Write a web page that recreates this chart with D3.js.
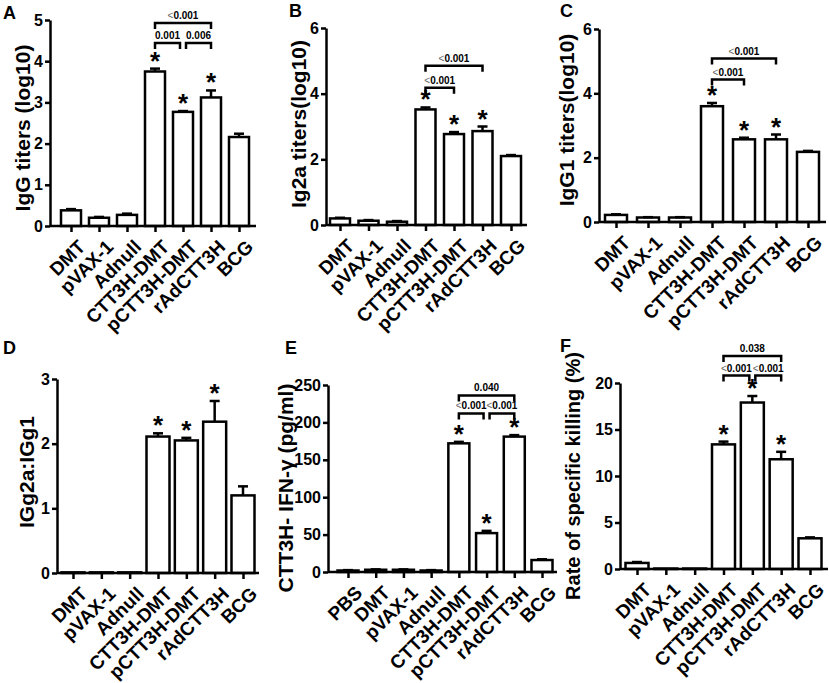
<!DOCTYPE html>
<html>
<head>
<meta charset="utf-8">
<script src="https://cdn.jsdelivr.net/npm/d3@7"></script>
<style>
  body { margin: 0; background: #fff; }
  text { font-family: Arial, "Liberation Sans", sans-serif; font-weight: bold; fill: #000; }
</style>
</head>
<body>
<div id="chart"></div>
<script>
// groups (x categories)
var groups7 = ["DMT", "pVAX-1", "Adnull", "CTT3H-DMT", "pCTT3H-DMT", "rAdCTT3H", "BCG"];
var groups8 = ["PBS", "DMT", "pVAX-1", "Adnull", "CTT3H-DMT", "pCTT3H-DMT", "rAdCTT3H", "BCG"];

// A - IgG titers (log10)
var iggMean = [0.38, 0.20, 0.27, 3.75, 2.77, 3.12, 2.16];
var iggErr  = [0.03, 0.02, 0.03, 0.07, 0.02, 0.17, 0.08];
var iggStars = ["CTT3H-DMT", "pCTT3H-DMT", "rAdCTT3H"];
var iggBrackets = [["CTT3H-DMT", "rAdCTT3H", 4.93, "<0.001"],
                   ["CTT3H-DMT", "pCTT3H-DMT", 4.44, "0.001"],
                   ["pCTT3H-DMT", "rAdCTT3H", 4.44, "0.006"]];

// B - Ig2a titers(log10)
var ig2aMean = [0.20, 0.13, 0.10, 3.52, 2.77, 2.86, 2.10];
var ig2aErr  = [0.02, 0.02, 0.02, 0.06, 0.06, 0.14, 0.03];
var ig2aStars = ["CTT3H-DMT", "pCTT3H-DMT", "rAdCTT3H"];
var ig2aBrackets = [["CTT3H-DMT", "rAdCTT3H", 4.85, "<0.001"],
                    ["CTT3H-DMT", "pCTT3H-DMT", 4.18, "<0.001"]];

// C - IgG1 titers(log10)
var igg1Mean = [0.22, 0.14, 0.14, 3.60, 2.57, 2.57, 2.18];
var igg1Err  = [0.02, 0.01, 0.01, 0.10, 0.05, 0.15, 0.03];
var igg1Stars = ["CTT3H-DMT", "pCTT3H-DMT", "rAdCTT3H"];
var igg1Brackets = [["CTT3H-DMT", "rAdCTT3H", 5.08, "<0.001"],
                    ["CTT3H-DMT", "pCTT3H-DMT", 4.43, "<0.001"]];

// D - IGg2a:IGg1
var ratioMean = [0.01, 0.01, 0.01, 2.11, 2.05, 2.34, 1.20];
var ratioErr  = [0, 0, 0, 0.05, 0.04, 0.32, 0.14];
var ratioStars = ["CTT3H-DMT", "pCTT3H-DMT", "rAdCTT3H"];

// E - CTT3H- IFN-γ (pg/ml)
var ifnMean = [2, 3, 3, 2, 172, 52, 181, 16];
var ifnErr  = [0.5, 0.5, 0.5, 0.5, 2, 3, 2, 1];
var ifnStars = ["CTT3H-DMT", "pCTT3H-DMT", "rAdCTT3H"];
var ifnBrackets = [["CTT3H-DMT", "rAdCTT3H", 236, "0.040"],
                   ["CTT3H-DMT", "pCTT3H-DMT", 212, "<0.001"],
                   ["pCTT3H-DMT", "rAdCTT3H", 212, "<0.001"]];

// F - Rate of specific killing (%)
var killMean = [0.65, 0.05, 0.05, 13.4, 17.9, 11.8, 3.3];
var killErr  = [0.1, 0, 0, 0.3, 0.7, 0.8, 0.1];
var killStars = ["CTT3H-DMT", "pCTT3H-DMT", "rAdCTT3H"];
var killBrackets = [["CTT3H-DMT", "rAdCTT3H", 22.9, "0.038"],
                    ["CTT3H-DMT", "pCTT3H-DMT", 20.8, "<0.001"],
                    ["pCTT3H-DMT", "rAdCTT3H", 20.8, "<0.001"]];

var svg = d3.select("#chart").append("svg")
    .attr("width", 829)
    .attr("height", 683);

// ax = y axis x, c0/c1 = first/last bar centre, xEnd = end of x axis
// yTop = pixel of top tick, y0 = pixel of zero
var panels = [
  {label: "A", lx: 3, ly: 19, title: "IgG titers (log10)", tx: 30, ty: 128, ts: 21,
   cats: groups7, vals: iggMean, errs: iggErr, stars: iggStars, brackets: iggBrackets,
   ticks: [0, 1, 2, 3, 4, 5], ax: 50, c0: 71, c1: 239, xEnd: 256, yTop: 20, y0: 226, bw: 20},
  {label: "B", lx: 289, ly: 17, title: "Ig2a titers(log10)", tx: 306, ty: 124, ts: 21,
   cats: groups7, vals: ig2aMean, errs: ig2aErr, stars: ig2aStars, brackets: ig2aBrackets,
   ticks: [0, 2, 4, 6], ax: 326, c0: 340, c1: 511, xEnd: 527, yTop: 28, y0: 225, bw: 20},
  {label: "C", lx: 560, ly: 17, title: "IgG1 titers(log10)", tx: 574, ty: 120, ts: 21,
   cats: groups7, vals: igg1Mean, errs: igg1Err, stars: igg1Stars, brackets: igg1Brackets,
   ticks: [0, 2, 4, 6], ax: 599, c0: 616, c1: 808, xEnd: 826, yTop: 29, y0: 222, bw: 22},
  {label: "D", lx: 3, ly: 354, title: "IGg2a:IGg1", tx: 34, ty: 472, ts: 21,
   cats: groups7, vals: ratioMean, errs: ratioErr, stars: ratioStars, brackets: [],
   ticks: [0, 1, 2, 3], ax: 57, c0: 73, c1: 243, xEnd: 259, yTop: 379, y0: 573, bw: 23},
  {label: "E", lx: 285, ly: 354, title: "CTT3H- IFN-\u03b3 (pg/ml)", tx: 293, ty: 488, ts: 21,
   cats: groups8, vals: ifnMean, errs: ifnErr, stars: ifnStars, brackets: ifnBrackets,
   ticks: [0, 50, 100, 150, 200, 250], ax: 328, c0: 348, c1: 542, xEnd: 557, yTop: 385, y0: 572, bw: 21},
  {label: "F", lx: 560, ly: 352, title: "Rate of specific killing (%)", tx: 580, ty: 476, ts: 20,
   cats: groups7, vals: killMean, errs: killErr, stars: killStars, brackets: killBrackets,
   ticks: [0, 5, 10, 15, 20], ax: 620, c0: 637, c1: 810, xEnd: 828, yTop: 383, y0: 569, bw: 23}
];

panels.forEach(drawPanel);

function drawPanel(p) {
  var g = svg.append("g");
  var yMax = d3.max(p.ticks);
  var y = d3.scaleLinear().domain([0, yMax]).range([p.y0, p.yTop]);
  var x = d3.scalePoint().domain(p.cats).range([p.c0, p.c1]);
  var rows = p.cats.map(function(c, i) { return {cat: c, v: p.vals[i], e: p.errs[i]}; });

  // bars
  g.selectAll("rect.bar").data(rows).enter().append("rect")
    .attr("class", "bar")
    .attr("x", function(d) { return x(d.cat) - p.bw / 2; })
    .attr("y", function(d) { return y(d.v); })
    .attr("width", p.bw)
    .attr("height", function(d) { return p.y0 - y(d.v); })
    .attr("fill", "#fff")
    .attr("stroke", "#000")
    .attr("stroke-width", 2.5);

  // error bars (upper only)
  var eb = g.selectAll("g.err").data(rows.filter(function(d) { return d.e > 0; })).enter().append("g");
  eb.append("line")
    .attr("x1", function(d) { return x(d.cat); })
    .attr("x2", function(d) { return x(d.cat); })
    .attr("y1", function(d) { return y(d.v); })
    .attr("y2", function(d) { return y(d.v + d.e); })
    .attr("stroke", "#000").attr("stroke-width", 2.5);
  eb.append("line")
    .attr("x1", function(d) { return x(d.cat) - 5; })
    .attr("x2", function(d) { return x(d.cat) + 5; })
    .attr("y1", function(d) { return y(d.v + d.e); })
    .attr("y2", function(d) { return y(d.v + d.e); })
    .attr("stroke", "#000").attr("stroke-width", 2.5);

  // stars
  g.selectAll("text.star").data(rows.filter(function(d) { return p.stars.indexOf(d.cat) >= 0; }))
    .enter().append("text")
    .attr("x", function(d) { return x(d.cat); })
    .attr("y", function(d) { return y(d.v + d.e) + 1; })
    .attr("text-anchor", "middle")
    .style("font-size", "26px")
    .text("*");

  // y axis
  var yAxis = g.append("g")
    .attr("transform", "translate(" + p.ax + ",0)")
    .call(d3.axisLeft(y).tickValues(p.ticks).tickFormat(d3.format("d"))
      .tickSize(5).tickSizeOuter(0).tickPadding(2));
  yAxis.select(".domain").attr("stroke-width", 2.5);
  yAxis.selectAll(".tick line").attr("stroke-width", 2.5);
  yAxis.selectAll(".tick text").style("font-size", "16px").style("font-family", "Arial, 'Liberation Sans', sans-serif").style("font-weight", "bold");

  // x axis
  var xAxis = g.append("g")
    .attr("transform", "translate(0," + p.y0 + ")")
    .call(d3.axisBottom(x).tickSize(6).tickSizeOuter(0));
  xAxis.select(".domain").remove();
  xAxis.append("line")
    .attr("x1", p.ax).attr("x2", p.xEnd)
    .attr("stroke", "#000").attr("stroke-width", 2.5);
  xAxis.selectAll(".tick line").attr("stroke-width", 2.5);
  xAxis.selectAll(".tick text")
    .attr("y", 0).attr("dy", 0)
    .attr("transform", "translate(15,22) rotate(-45)")
    .style("text-anchor", "end")
    .style("font-size", "19px")
    .style("font-family", "Arial, 'Liberation Sans', sans-serif")
    .style("font-weight", "bold");

  // significance brackets
  p.brackets.forEach(function(b) {
    var xa = x(b[0]), xb = x(b[1]);
    p.brackets.forEach(function(o) {
      if (o !== b && o[2] === b[2]) {
        if (o[1] === b[0]) xa += 3;
        if (o[0] === b[1]) xb -= 3;
      }
    });
    var yb = y(b[2]);
    g.append("path")
      .attr("d", "M" + xa + "," + (yb + 6) + "V" + yb + "H" + xb + "V" + (yb + 6))
      .attr("fill", "none").attr("stroke", "#000").attr("stroke-width", 2.5);
    var t = g.append("text")
      .attr("x", (xa + xb) / 2)
      .attr("y", yb - 4)
      .attr("text-anchor", "middle")
      .style("font-size", "10px");
    if (b[3].charAt(0) === "<") {
      t.append("tspan").style("font-weight", "normal").style("fill", "#666").text("<");
      t.append("tspan").text(b[3].slice(1));
    } else {
      t.text(b[3]);
    }
  });

  // y title
  g.append("text")
    .attr("transform", "translate(" + p.tx + "," + p.ty + ") rotate(-90)")
    .attr("text-anchor", "middle")
    .style("font-size", p.ts + "px")
    .text(p.title);

  // panel letter
  g.append("text")
    .attr("x", p.lx).attr("y", p.ly)
    .style("font-size", "18px")
    .text(p.label);
}
</script>
</body>
</html>
